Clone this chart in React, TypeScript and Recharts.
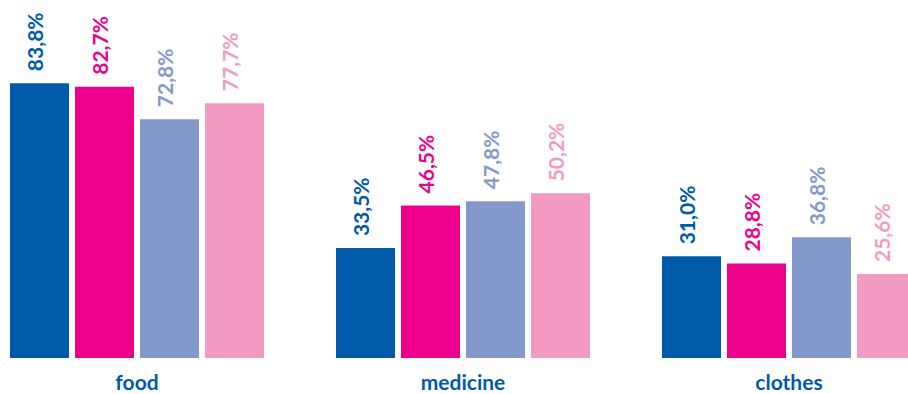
import { BarChart, Bar, XAxis, YAxis, LabelList } from 'recharts'

const categories = ['food', 'medicine', 'clothes']
const seriesA = [83.8, 33.5, 31.0]
const seriesB = [82.7, 46.5, 28.8]
const seriesC = [72.8, 47.8, 36.8]
const seriesD = [77.7, 50.2, 25.6]

const SERIES = [
  { key: 'a', values: seriesA, color: '#005AAA' },
  { key: 'b', values: seriesB, color: '#EC008C' },
  { key: 'c', values: seriesC, color: '#8399CC' },
  { key: 'd', values: seriesD, color: '#F39AC2' },
]

const FONT = 'Lato, "Open Sans", sans-serif'

const data = categories.map((name, i) => {
  const row: Record<string, string | number> = { name }
  SERIES.forEach((s) => { row[s.key] = s.values[i] })
  return row
})

// vertical value label sitting above each bar
const makeLabel = (color: string) => (props: any) => {
  const { x, y, width, value } = props
  const cx = Number(x) + Number(width) / 2 + 4
  const ty = Number(y) - 12
  return (
    <text
      x={cx}
      y={ty}
      transform={`rotate(-90, ${cx}, ${ty})`}
      fill={color}
      fontFamily={FONT}
      fontWeight={700}
      fontSize={21}
      textAnchor="start"
    >
      {Number(value).toFixed(1).replace('.', ',')}%
    </text>
  )
}

const CategoryTick = ({ x, y, payload }: any) => (
  <text
    x={x}
    y={y}
    dy={24}
    textAnchor="middle"
    fill="#005AAA"
    fontFamily={FONT}
    fontWeight={700}
    fontSize={21}
  >
    {payload.value}
  </text>
)

export default function App() {
  return (
    <div style={{ position: 'absolute', left: 0, top: 0, width: 908, height: 394, overflow: 'hidden', background: '#fff' }}>
      <div style={{ position: 'absolute', left: -26, top: 0 }}>
        <BarChart
          width={978}
          height={394}
          data={data}
          margin={{ top: 30, right: 0, bottom: 0, left: 0 }}
          barCategoryGap={36}
          barGap={6}
        >
          <XAxis
            dataKey="name"
            axisLine={false}
            tickLine={false}
            height={36}
            tick={<CategoryTick />}
          />
          <YAxis hide domain={[0, 100]} />
          {SERIES.map((s) => (
            <Bar key={s.key} dataKey={s.key} fill={s.color} barSize={59} isAnimationActive={false}>
              <LabelList dataKey={s.key} content={makeLabel(s.color)} />
            </Bar>
          ))}
        </BarChart>
      </div>
    </div>
  )
}
